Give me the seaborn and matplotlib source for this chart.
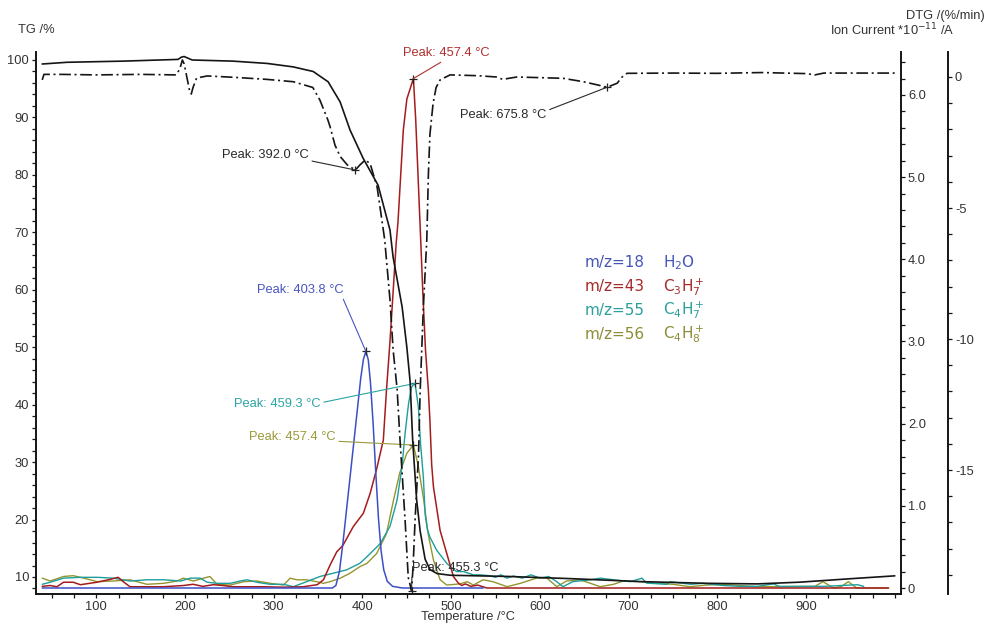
import matplotlib
matplotlib.use("Agg")
import matplotlib.pyplot as plt
from matplotlib.ticker import MultipleLocator, FixedLocator, FuncFormatter
import seaborn as sns

# ---------------- data ----------------
# TG curve (mass %, left axis)
tg_T = [39, 67, 130, 192, 196, 199, 202, 208, 254, 292.5, 321.8, 344.4, 361.3, 374.8, 386,
        400.7, 417.6, 431, 434.5, 444.7, 450, 453.7, 456.5, 461, 465, 470.6, 476, 484,
        499, 563, 637, 713, 788, 845, 893, 950, 1000]
tg_val = [99.3, 99.6, 99.8, 100.1, 100.5, 100.6, 100.4, 100.0, 99.8, 99.4, 98.8, 98.0, 96.2,
          92.7, 87.8, 82.9, 78.2, 70.4, 65.7, 57.0, 50.0, 44.0, 34.0, 23.5, 18.0, 13.1, 11.3,
          10.6, 10.3, 10.1, 9.7, 9.2, 8.9, 8.8, 9.1, 9.7, 10.2]

# DTG curve (%/min, outer right axis)
dtg_T = [39, 41, 60, 100, 150, 190, 194, 197, 199, 202, 205, 207, 209, 213, 225, 254, 292,
         322, 344, 352, 361, 363.5, 369, 375, 383, 392.0, 397, 403, 408.6, 416.5, 425, 431,
         434.5, 439, 442.4, 448, 451.6, 455.3, 457, 459.3, 463.2, 465, 468.6, 472.5, 474.3,
         476, 479.6, 483, 487.5, 498.7, 530, 551, 558, 574, 626, 649, 664.6, 675.8, 687,
         692.6, 698, 750, 800, 850, 900, 910, 920, 1000]
dtg_val = [-0.11, 0.1, 0.1, 0.08, 0.1, 0.08, 0.3, 0.65, 0.5, 0.0, -0.5, -0.65, -0.4, -0.04,
           0.04, -0.01, -0.09, -0.18, -0.4, -0.88, -1.64, -1.9, -2.6, -3.04, -3.36, -3.55,
           -3.36, -3.17, -3.3, -4.2, -6.2, -8.5, -10.4, -11.9, -13.9, -16.9, -19.1, -19.6,
           -18.7, -16.9, -14.4, -12.0, -8.8, -6.2, -3.7, -2.2, -1.0, -0.4, -0.11, 0.08, 0.05,
           0.0, -0.09, 0.0, -0.05, -0.18, -0.3, -0.39, -0.24, 0.0, 0.14, 0.15, 0.14, 0.17,
           0.13, 0.08, 0.15, 0.15]

# Ion currents (*1e-11 A, inner right axis)
h2o_T = [39, 100, 200, 300, 366, 370, 374, 378, 382, 386, 390, 394, 398, 401, 403.8, 406.5,
         409, 412, 415, 418, 421, 424, 428, 434, 445, 536]
h2o_val = [0, 0, 0, 0, 0, 0.03, 0.2, 0.55, 0.95, 1.35, 1.75, 2.15, 2.55, 2.78, 2.88, 2.78,
           2.5, 2.0, 1.4, 0.85, 0.45, 0.22, 0.08, 0.02, 0.0, 0.0]

c3h7_T = [39, 48, 55.6, 63, 74, 82, 100.6, 115.6, 124.6, 130, 138, 175, 198, 209, 220, 232,
          243, 254, 288, 311, 333, 349, 356, 363.5, 371, 378, 389.8, 401, 408.6, 416, 423.5,
          427, 431, 434.5, 438, 440, 446, 450, 457.4, 460, 465, 468, 471, 474.3, 476, 478,
          480, 487.5, 495, 502.5, 508, 512, 516, 522, 530, 540, 993]
c3h7_val = [0.02, 0.03, 0.015, 0.07, 0.07, 0.04, 0.07, 0.105, 0.13, 0.08, 0.015, 0.015, 0.03,
            0.045, 0.02, 0.04, 0.03, 0.015, 0.015, 0.01, 0.015, 0.04, 0.10, 0.28, 0.44, 0.52,
            0.75, 0.91, 1.15, 1.45, 1.8, 2.4, 3.0, 3.6, 4.2, 4.45, 5.57, 5.95, 6.2, 5.7, 4.4,
            3.6, 2.9, 2.4, 2.04, 1.5, 1.23, 0.7, 0.42, 0.14, 0.06, 0.03, 0.05, 0.02, 0.035,
            0.0, 0.0]

c4h7_T = [39, 48, 63, 82, 101, 119, 138, 157, 176, 195, 206, 217, 225, 236, 251, 262, 270,
          281, 296, 311, 322, 337, 352, 367, 382, 397, 405, 420, 431, 439, 444.6, 448, 452,
          455.5, 459.3, 463, 465.5, 468.6, 470.6, 473, 476, 483.6, 495, 506, 514, 525, 533,
          543, 550, 556, 563, 570, 580, 590, 600, 610, 619, 626, 637, 657, 668, 683, 702,
          715, 720, 743, 747, 770, 784, 807, 826, 845, 863, 870, 920, 958, 965]
c4h7_val = [0.045, 0.07, 0.12, 0.13, 0.13, 0.12, 0.085, 0.1, 0.1, 0.085, 0.12, 0.12, 0.07,
            0.057, 0.057, 0.085, 0.1, 0.07, 0.045, 0.045, 0.016, 0.077, 0.14, 0.18, 0.22, 0.3,
            0.38, 0.54, 0.75, 1.07, 1.48, 1.88, 2.25, 2.45, 2.49, 2.2, 1.75, 1.35, 0.9, 0.72,
            0.62, 0.46, 0.3, 0.2, 0.2, 0.16, 0.16, 0.15, 0.13, 0.16, 0.12, 0.146, 0.12, 0.16,
            0.12, 0.14, 0.077, 0.016, 0.077, 0.1, 0.12, 0.1, 0.077, 0.12, 0.06, 0.045, 0.077,
            0.045, 0.057, 0.03, 0.02, 0.02, 0.05, 0.02, 0.02, 0.04, 0.02]

c4h8_T = [39, 48, 63, 74, 86, 101, 119, 138, 157, 176, 191, 198, 209.5, 221, 228, 236, 251,
          266, 281, 296, 311, 318.5, 326, 337, 348.5, 356, 363.5, 375, 386, 397, 405, 416,
          427, 435, 442, 450, 457.4, 463, 469, 474, 480, 487.5, 495, 510, 518, 525, 536, 547,
          563, 578, 596, 608, 619, 630, 645, 657, 668, 683, 694, 713, 732, 750, 769, 788,
          807, 826, 845, 871, 910, 919, 931, 940, 947.6, 957, 993]
c4h8_val = [0.12, 0.085, 0.14, 0.15, 0.12, 0.077, 0.085, 0.1, 0.045, 0.057, 0.085, 0.12,
            0.085, 0.12, 0.14, 0.045, 0.036, 0.077, 0.085, 0.057, 0.036, 0.12, 0.1, 0.1,
            0.077, 0.057, 0.077, 0.12, 0.18, 0.26, 0.3, 0.42, 0.66, 1.07, 1.4, 1.64, 1.74,
            1.48, 1.07, 0.66, 0.34, 0.1, 0.036, 0.05, 0.077, 0.036, 0.1, 0.077, 0.016, 0.057,
            0.12, 0.12, 0.016, 0.085, 0.1, 0.057, 0.016, 0.045, 0.085, 0.077, 0.057, 0.045,
            0.016, 0.036, 0.045, 0.03, 0.016, 0.016, 0.02, 0.077, 0.0, 0.02, 0.077, 0.0, 0.0]

# Peak annotations: temperature, value
dtg_peak_T = [392.0, 455.3, 675.8]
dtg_peak_val = [-3.55, -19.6, -0.39]
ic_peak_T = [403.8, 457.4, 459.3, 457.4]
ic_peak_val = [2.88, 6.2, 2.49, 1.74]

temp_ticks = [100, 200, 300, 400, 500, 600, 700, 800, 900]
ion_labels = ["m/z=18", "m/z=43", "m/z=55", "m/z=56"]
ion_formulas = ["H$_2$O", "C$_3$H$_7^+$", "C$_4$H$_7^+$", "C$_4$H$_8^+$"]

# ---------------- style ----------------
sns.set_style("white")
plt.rcParams["font.family"] = ["Liberation Sans", "DejaVu Sans"]
plt.rcParams["mathtext.fontset"] = "dejavusans"

W, H = 988, 627
fig = plt.figure(figsize=(W / 100, H / 100), dpi=100)
fig.patch.set_facecolor("white")

L, R, T, B = 36, 901, 52, 594
ax = fig.add_axes([L / W, 1 - B / H, (R - L) / W, (B - T) / H])
ax_ic = ax.twinx()
ax_dtg = ax.twinx()

ax_ic.set_zorder(1)
ax_dtg.set_zorder(2)
ax.set_zorder(3)
for a in (ax, ax_ic, ax_dtg):
    a.patch.set_visible(False)

K = "#151515"
C_BLUE, C_RED, C_TEAL, C_OLIVE = "#3c4fc6", "#a51c1c", "#1d9e9c", "#959530"
TXT = "#333333"


def draw(axis, xs, ys, color, lw, ls="-"):
    sns.lineplot(x=xs, y=ys, ax=axis, color=color, linewidth=lw, linestyle=ls,
                 estimator=None, sort=False, errorbar=None, legend=False)


# ion currents
draw(ax_ic, c4h8_T, c4h8_val, C_OLIVE, 1.0)
draw(ax_ic, c4h7_T, c4h7_val, C_TEAL, 1.0)
draw(ax_ic, c3h7_T, c3h7_val, C_RED, 1.1)
draw(ax_ic, h2o_T, h2o_val, C_BLUE, 1.1)
# DTG and TG
draw(ax_dtg, dtg_T, dtg_val, K, 1.2, (0, (7, 2.2, 1.2, 2.2)))
draw(ax, tg_T, tg_val, K, 1.2)

# peak crosses
ax_ic.plot(ic_peak_T, ic_peak_val, linestyle="none", marker="+", ms=6, mew=0.9, color="#222")
ax_dtg.plot(dtg_peak_T, dtg_peak_val, linestyle="none", marker="+", ms=6, mew=0.9, color="#222")

# ---------------- axes ----------------
ax.set_xlim(32, 1007)
ax.set_ylim(7.04, 101.39)
ax_ic.set_ylim(-0.073, 6.523)
ax_dtg.set_ylim(-19.73, 0.954)

for a in (ax, ax_ic, ax_dtg):
    a.set_xlabel("")
    a.set_ylabel("")
    for s in a.spines.values():
        s.set_visible(False)
        s.set_color(K)
        s.set_linewidth(1.4)

ax.spines["left"].set_visible(True)
ax.spines["bottom"].set_visible(True)
ax_ic.spines["right"].set_visible(True)
ax_dtg.spines["right"].set_visible(True)
ax_dtg.spines["right"].set_position(("axes", 1 + 47 / (R - L)))

ax.xaxis.set_major_locator(FixedLocator(temp_ticks))
ax.xaxis.set_minor_locator(MultipleLocator(25))
ax.yaxis.set_major_locator(MultipleLocator(10))
ax.yaxis.set_minor_locator(MultipleLocator(2))
ax_ic.yaxis.set_major_locator(MultipleLocator(1))
ax_ic.yaxis.set_minor_locator(MultipleLocator(0.2))
ax_ic.yaxis.set_major_formatter(FuncFormatter(lambda v, p: "0" if abs(v) < 1e-9 else f"{v:.1f}"))
ax_dtg.yaxis.set_major_locator(MultipleLocator(5))
ax_dtg.yaxis.set_minor_locator(MultipleLocator(1))
ax_dtg.yaxis.set_major_formatter(FuncFormatter(lambda v, p: f"{v:.0f}"))

tick_kw = dict(direction="out", length=3, width=0.9, color=K, labelsize=9.3,
               labelcolor=TXT, pad=2)
ax.tick_params(axis="x", which="both", bottom=True, top=False, **tick_kw)
ax.tick_params(axis="y", which="both", left=True, right=False, **tick_kw)
ax_ic.tick_params(axis="y", which="both", right=True, left=False, **tick_kw)
ax_dtg.tick_params(axis="y", which="both", right=True, left=False, **tick_kw)
ax_ic.tick_params(axis="x", which="both", bottom=False, top=False, labelbottom=False)
ax_dtg.tick_params(axis="x", which="both", bottom=False, top=False, labelbottom=False)

# ---------------- axis titles ----------------
def px(x, y):
    return x / W, 1 - y / H

fig.text(*px(18, 30), "TG /%", fontsize=9.3, color=TXT, ha="left", va="center")
fig.text(*px(468, 617), "Temperature /°C", fontsize=9.3, color=TXT, ha="center", va="center")
fig.text(*px(955, 30), "Ion Current *10$^{-11}$ /A", fontsize=9.3, color=TXT,
         ha="right", va="center")
fig.text(*px(985, 16), "DTG /(%/min)", fontsize=9.3, color=TXT, ha="right", va="center")

# ---------------- peak labels ----------------
def peak_label(axis, xval, yval, text, tx, ty, color, relpos):
    axis.annotate(text, xy=(xval, yval), xytext=(tx, H - ty), textcoords="figure pixels",
                  fontsize=9.3, color=color, ha="left", va="center", annotation_clip=False,
                  arrowprops=dict(arrowstyle="-", color=color, lw=0.8, shrinkA=0, shrinkB=0,
                                  relpos=relpos))

peak_label(ax_dtg, dtg_peak_T[0], dtg_peak_val[0], "Peak: 392.0 °C", 222, 155, "#2a2a2a", (1, 0.05))
peak_label(ax_dtg, dtg_peak_T[1], dtg_peak_val[1], "Peak: 455.3 °C", 412, 568, "#2a2a2a", (0, 0.1))
peak_label(ax_dtg, dtg_peak_T[2], dtg_peak_val[2], "Peak: 675.8 °C", 460, 115, "#2a2a2a", (1, 0.85))
peak_label(ax_ic, ic_peak_T[0], ic_peak_val[0], "Peak: 403.8 °C", 257, 290, "#4a55c0", (0.98, 0.0))
peak_label(ax_ic, ic_peak_T[1], ic_peak_val[1], "Peak: 457.4 °C", 403, 53, "#b03030", (0.5, 0.0))
peak_label(ax_ic, ic_peak_T[2], ic_peak_val[2], "Peak: 459.3 °C", 234, 404, "#2aa5a5", (1, 0.6))
peak_label(ax_ic, ic_peak_T[3], ic_peak_val[3], "Peak: 457.4 °C", 249, 437, "#9a9a3a", (1, 0.15))

# ---------------- ion legend ----------------
leg_colors = ["#4656b8", "#a52a2a", "#2a9f9d", "#8c8c38"]
for i, (lab, form, col) in enumerate(zip(ion_labels, ion_formulas, leg_colors)):
    yy = 263 + i * 23.7
    fig.text(*px(585, yy), lab, fontsize=11, color=col, family="DejaVu Sans",
             ha="left", va="center")
    fig.text(*px(663, yy), form, fontsize=11, color=col, family="DejaVu Sans",
             ha="left", va="center")

fig.savefig("out.png", dpi=100, facecolor="white")
